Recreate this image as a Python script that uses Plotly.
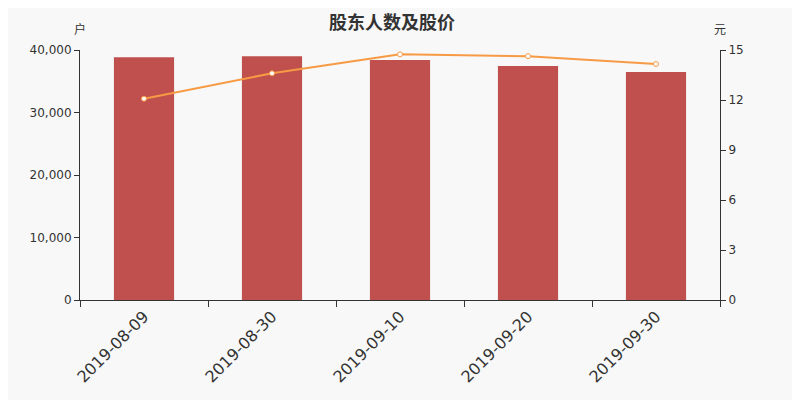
import plotly.graph_objects as go

dates = ["2019-08-09", "2019-08-30", "2019-09-10", "2019-09-20", "2019-09-30"]
holders = [38850, 38990, 38400, 37450, 36480]
prices = [12.08, 13.6, 14.74, 14.63, 14.16]

fig = go.Figure()
fig.add_trace(go.Bar(x=dates, y=holders, marker=dict(color="#c0504d", line=dict(width=0)),
                     width=0.47, name="股东人数"))
fig.add_trace(go.Scatter(x=dates, y=prices, yaxis="y2", mode="lines+markers",
                         line=dict(color="#f79a45", width=2),
                         marker=dict(size=5, color="white", line=dict(color="#f79a45", width=1)),
                         name="股价"))

font_fam = "DejaVu Sans, Noto Sans CJK SC"
cjk = "Noto Sans CJK SC"
fig.update_layout(
    width=800, height=400,
    paper_bgcolor="#f8f8f8", plot_bgcolor="#f8f8f8",
    margin=dict(l=72, r=88, t=42, b=108),
    showlegend=False,
    font=dict(family=font_fam, color="#333333"),
    xaxis=dict(type="category", tickson="boundaries", ticks="outside", ticklen=6,
               showline=True, linecolor="#333333", linewidth=1, tickcolor="#333333",
               tickangle=-45, tickfont=dict(size=16, color="#333333"), showgrid=False),
    yaxis=dict(range=[0, 40000], tickvals=[0, 10000, 20000, 30000, 40000],
               ticktext=["0", "10,000", "20,000", "30,000", "40,000"],
               ticks="outside", ticklen=5, showline=True, linecolor="#333333", tickcolor="#333333",
               showgrid=False, zeroline=False, tickfont=dict(size=12, color="#333333")),
    yaxis2=dict(range=[0, 15], tickvals=[0, 3, 6, 9, 12, 15], overlaying="y", side="right",
                ticks="outside", ticklen=5, showline=True, linecolor="#333333", tickcolor="#333333",
                showgrid=False, zeroline=False, tickfont=dict(size=12, color="#333333")),
    annotations=[
        dict(text="<b>股东人数及股价</b>", xref="paper", yref="paper", x=0.5, y=1.0,
             xanchor="center", yanchor="middle", xshift=-8, yshift=29, showarrow=False,
             font=dict(size=18, color="#333333", family=cjk)),
        dict(text="户", xref="paper", yref="paper", x=0, y=1.0, xanchor="center", yanchor="middle",
             yshift=22, showarrow=False, font=dict(size=12, color="#333333", family=cjk)),
        dict(text="元", xref="paper", yref="paper", x=1, y=1.0, xanchor="center", yanchor="middle",
             yshift=22, showarrow=False, font=dict(size=12, color="#333333", family=cjk)),
    ],
)
fig.write_html("out.html")
